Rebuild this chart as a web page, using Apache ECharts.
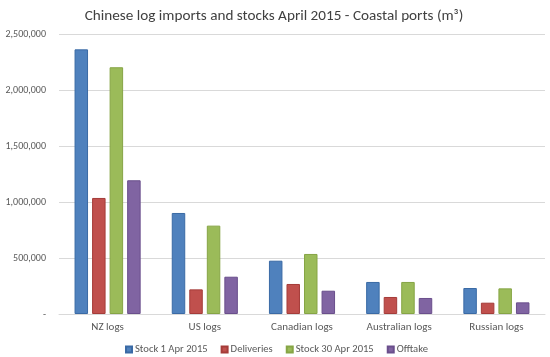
<!DOCTYPE html>
<html><head><meta charset="utf-8">
<script src="https://cdn.jsdelivr.net/npm/echarts@6/dist/echarts.min.js"></script>
<style>html,body{margin:0;padding:0;background:#fff}#c{width:550px;height:357px}</style>
</head><body><div id="c"></div>
<script>
const categories = ['NZ logs', 'US logs', 'Canadian logs', 'Australian logs', 'Russian logs'];
const seriesNames = ['Stock 1 Apr 2015', 'Deliveries', 'Stock 30 Apr 2015', 'Offtake'];
const stockApr1 = [2363000, 902000, 476000, 286000, 232000];
const deliveries = [1036000, 220000, 268000, 152000, 101000];
const stockApr30 = [2203000, 789000, 536000, 286000, 229000];
const offtake = [1194000, 333000, 208000, 143000, 104000];
const yTicks = [0, 500000, 1000000, 1500000, 2000000, 2500000];

const colors = ['#4F81BD', '#C0504D', '#9BBB59', '#8064A2'];
const borders = ['#3A6AA5', '#A53C39', '#86A545', '#6A4F8C'];
const values = [stockApr1, deliveries, stockApr30, offtake];

const chart = echarts.init(document.getElementById('c'), null, {renderer: 'canvas'});
const font = 'Calibri, Carlito, "Noto Sans", "Liberation Sans", sans-serif';
chart.setOption({
  animation: false,
  textStyle: {fontFamily: font},
  title: {
    text: 'Chinese log imports and stocks April 2015 - Coastal ports (m³)',
    left: 269, top: 4, textAlign: 'center',
    textStyle: {fontFamily: font, fontSize: 15.2, fontWeight: 'normal', color: '#404040'}
  },
  legend: {
    data: seriesNames, bottom: -3, left: 120,
    itemWidth: 6, itemHeight: 6, itemGap: 13, icon: 'rect',
    textStyle: {fontFamily: font, fontSize: 10.6, color: '#595959', padding: [0, 0, 0, -2]}
  },
  grid: {left: 59, right: 5, top: 34, bottom: 43, containLabel: false},
  xAxis: {
    type: 'category', data: categories,
    axisLine: {lineStyle: {color: '#D9D9D9'}},
    axisTick: {show: false},
    axisLabel: {fontFamily: font, fontSize: 11, color: '#595959', margin: 8}
  },
  yAxis: {
    type: 'value', min: yTicks[0], max: yTicks[yTicks.length - 1], interval: 500000,
    axisLine: {show: false}, axisTick: {show: false},
    splitLine: {lineStyle: {color: '#D9D9D9'}},
    axisLabel: {
      fontFamily: font, fontSize: 10, color: '#595959', margin: 13,
      formatter: v => v === 0 ? '-' : v.toLocaleString('en-US')
    }
  },
  series: seriesNames.map((n, i) => ({
    name: n, type: 'bar', data: values[i],
    barGap: '30%', barCategoryGap: '32%',
    itemStyle: {color: colors[i], borderColor: borders[i], borderWidth: 1}
  }))
});
</script></body></html>
